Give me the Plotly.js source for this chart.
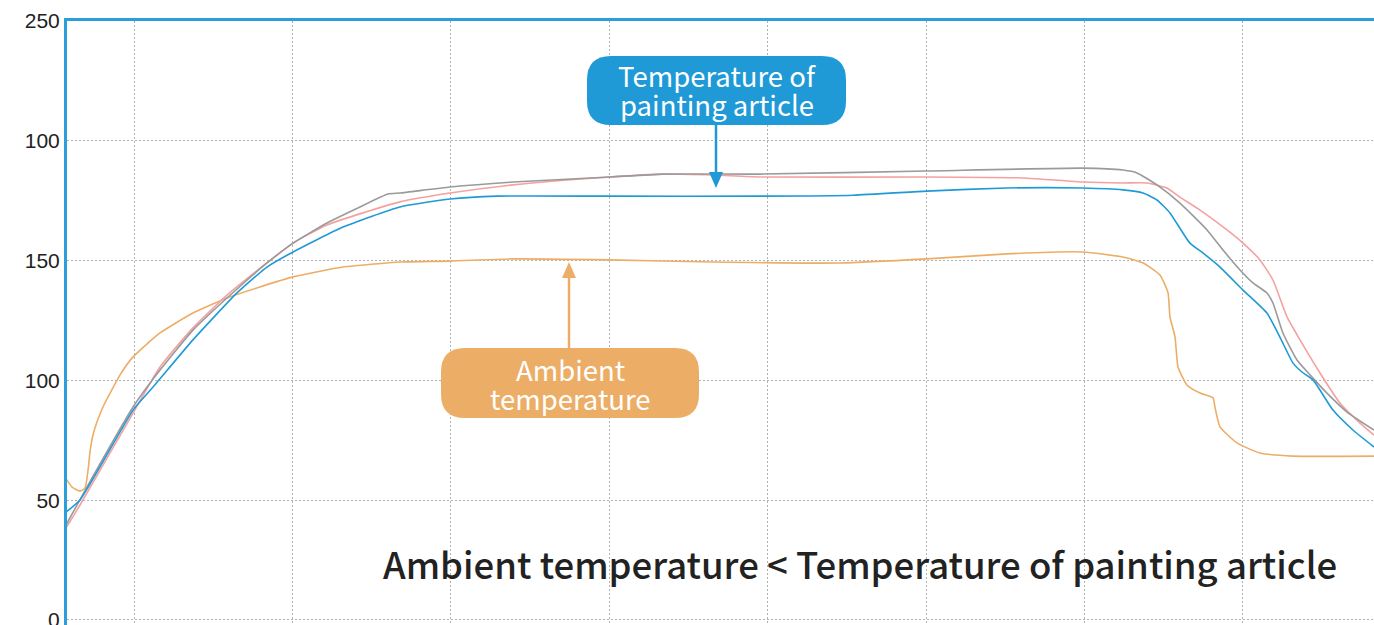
<!DOCTYPE html>
<html>
<head>
<meta charset="utf-8">
<script src="https://cdn.plot.ly/plotly-3.0.1.min.js"></script>
<style>html,body{margin:0;padding:0;background:#fff;}#chart{width:1374px;height:625px;}</style>
</head>
<body>
<div id="chart"></div>
<script>
// ---- data (time in arbitrary units, temperature values) ----
const blueX = [5.64, 6.59, 9.94, 11.20, 13.72, 16.50, 18.39, 20.04, 23.19, 26.79, 29.95, 32.91, 40.05, 49.51, 55.38, 60.05, 65.10, 69.90, 72.42, 73.69, 74.57, 75.39, 76.65, 77.47, 78.55, 80.00, 81.51, 82.33, 83.15, 83.72, 84.42, 85.68, 86.94, 88.27];
const blueY = [44.7, 50.1, 87.6, 97.2, 116.9, 136.5, 147.3, 153.6, 164.0, 172.4, 175.7, 176.9, 176.9, 176.9, 177.3, 179.0, 180.3, 180.3, 179.5, 178.2, 175.3, 169.9, 157.3, 153.2, 147.3, 137.7, 128.1, 118.1, 107.3, 103.5, 100.2, 87.6, 79.3, 72.2];

const grayX = [5.64, 7.03, 9.94, 11.64, 13.72, 15.87, 18.39, 20.04, 22.18, 24.26, 26.03, 26.79, 29.95, 33.92, 40.05, 43.39, 49.51, 60.05, 69.90, 72.42, 73.31, 74.57, 76.02, 77.73, 78.74, 79.81, 80.63, 81.51, 81.89, 82.52, 83.41, 84.23, 85.30, 86.57, 88.27];
const grayY = [38.8, 55.5, 88.9, 104.3, 121.0, 134.4, 149.0, 157.3, 165.7, 172.4, 177.8, 178.2, 180.7, 182.8, 184.9, 186.1, 186.1, 187.4, 188.6, 187.8, 186.6, 181.6, 174.0, 162.8, 154.4, 146.1, 140.7, 136.5, 132.3, 119.8, 108.5, 102.3, 94.7, 86.8, 79.3];

const redX = [5.64, 6.59, 9.94, 11.64, 13.72, 15.87, 18.39, 20.04, 22.18, 26.79, 29.95, 33.92, 40.05, 43.39, 46.55, 49.51, 60.05, 66.11, 69.90, 72.42, 73.94, 75.20, 76.02, 77.29, 78.99, 80.00, 81.07, 81.89, 82.78, 83.60, 84.86, 86.12, 87.39, 88.27];
const redY = [37.6, 48.0, 86.4, 105.6, 121.9, 135.6, 149.0, 157.3, 164.9, 174.5, 178.2, 181.6, 184.9, 186.1, 185.7, 184.9, 184.9, 184.5, 182.8, 182.4, 182.4, 180.3, 176.5, 171.1, 162.8, 157.3, 150.3, 141.9, 126.5, 116.9, 103.1, 90.6, 82.2, 77.2];

const ambX = [5.64, 6.09, 6.59, 6.91, 7.10, 7.22, 7.41, 7.66, 8.04, 8.49, 9.12, 9.94, 11.64, 13.72, 15.87, 17.95, 20.04, 23.19, 26.79, 29.95, 33.92, 40.05, 46.55, 54.56, 60.05, 65.10, 69.90, 72.42, 73.69, 74.76, 75.27, 75.39, 75.71, 75.90, 76.46, 77.29, 78.11, 78.23, 78.55, 79.62, 81.07, 83.15, 88.27];
const ambY = [59.7, 55.5, 53.8, 55.1, 62.6, 70.1, 77.2, 82.6, 88.9, 94.7, 102.3, 109.8, 119.8, 128.1, 134.4, 139.0, 143.2, 147.3, 149.4, 149.8, 150.7, 150.3, 149.4, 149.0, 150.7, 152.8, 153.6, 151.5, 149.0, 144.0, 136.5, 126.5, 118.1, 105.6, 98.1, 94.7, 92.7, 88.9, 80.6, 73.9, 69.7, 68.4, 68.4];

const yTickVals = [0, 50, 100, 150, 200, 250];
const yTickText = ['0', '50', '100', '150', '100', '250'];

const labelArticle = ['Temperature of', 'painting article'];
const labelAmbient = ['Ambient', 'temperature'];
const bigText = 'Ambient temperature < Temperature of painting article';

// ---- layout geometry ----
const W = 1374, H = 625, ML = 67, MT = 21, MR = 0, MB = 0;
const XR = [5.77, 88.27], YR = [-2.09, 250];
const px2x = p => XR[0] + (p - ML) / (W - ML - MR) * (XR[1] - XR[0]);
const py2y = p => YR[1] - (p - MT) / (H - MT - MB) * (YR[1] - YR[0]);
const px2paper = p => (p - ML) / (W - ML - MR);
const py2paper = p => 1 - (p - MT) / (H - MT - MB);
const P = (a, b) => px2x(a).toFixed(4) + ',' + py2y(b).toFixed(4);

function roundRect(x0, y0, x1, y1, r) {
  return 'M' + P(x0 + r, y0) + ' L' + P(x1 - r, y0) + ' Q' + P(x1, y0) + ' ' + P(x1, y0 + r) +
    ' L' + P(x1, y1 - r) + ' Q' + P(x1, y1) + ' ' + P(x1 - r, y1) +
    ' L' + P(x0 + r, y1) + ' Q' + P(x0, y1) + ' ' + P(x0, y1 - r) +
    ' L' + P(x0, y0 + r) + ' Q' + P(x0, y0) + ' ' + P(x0 + r, y0) + ' Z';
}
function arrowShapes(x, yTail, yTip, color) {
  const dir = yTip > yTail ? 1 : -1, hl = 16, hw = 7;
  const base = yTip - dir * hl;
  return [
    {type: 'line', xref: 'x', yref: 'y', x0: px2x(x), x1: px2x(x), y0: py2y(yTail), y1: py2y(base), line: {color: color, width: 2.5}, layer: 'above'},
    {type: 'path', xref: 'x', yref: 'y', path: 'M' + P(x - hw, base) + ' L' + P(x + hw, base) + ' L' + P(x, yTip) + ' Z', fillcolor: color, line: {width: 0}, layer: 'above'}
  ];
}

const BLUE = '#1f9ad6', GRAY = '#9a9a9a', RED = '#f4a1a1', ORANGE = '#ecae66';
const lw = 1.6;
const traces = [
  {x: ambX, y: ambY, mode: 'lines', line: {color: ORANGE, width: lw, shape: 'spline', smoothing: 0.5}, hoverinfo: 'skip'},
  {x: redX, y: redY, mode: 'lines', line: {color: RED, width: lw, shape: 'spline', smoothing: 0.5}, hoverinfo: 'skip'},
  {x: grayX, y: grayY, mode: 'lines', line: {color: GRAY, width: lw, shape: 'spline', smoothing: 0.5}, hoverinfo: 'skip'},
  {x: blueX, y: blueY, mode: 'lines', line: {color: BLUE, width: lw, shape: 'spline', smoothing: 0.5}, hoverinfo: 'skip'}
];

const lblFont = {family: 'Noto Sans CJK JP, Noto Sans, sans-serif', size: 27.5, color: '#ffffff'};
const lbl = (text, px, py) => ({xref: 'paper', yref: 'paper', x: px2paper(px), y: py2paper(py), text: text, showarrow: false, font: lblFont, xanchor: 'center', yanchor: 'middle'});
const annotations = [
  lbl(labelArticle[0], 717, 75),
  lbl(labelArticle[1], 717, 104),
  lbl(labelAmbient[0], 570, 369),
  lbl(labelAmbient[1], 570, 398),
  {xref: 'paper', yref: 'paper', x: px2paper(859.5), y: py2paper(563), text: bigText, showarrow: false, xanchor: 'center', yanchor: 'middle',
   font: {family: 'Noto Sans CJK JP, Noto Sans, sans-serif', size: 36.5, weight: 500, color: '#222222'}}
];

const shapes = [
  {type: 'path', xref: 'x', yref: 'y', path: roundRect(587, 56, 846, 125, 24), fillcolor: BLUE, line: {width: 0}, layer: 'above'},
  {type: 'path', xref: 'x', yref: 'y', path: roundRect(441, 348, 699, 418, 24), fillcolor: ORANGE, line: {width: 0}, layer: 'above'}
].concat(arrowShapes(716, 125, 188, BLUE), arrowShapes(569, 348, 262, ORANGE));

const layout = {
  width: W, height: H,
  margin: {l: ML, r: MR, t: MT, b: MB, pad: 0},
  paper_bgcolor: '#ffffff', plot_bgcolor: '#ffffff',
  showlegend: false,
  xaxis: {range: XR, tick0: 0, dtick: 10, showticklabels: false, ticks: '', showgrid: true, gridcolor: '#b0b0b0', griddash: '2px,2px', gridwidth: 1,
          zeroline: false, showline: true, mirror: true, linecolor: '#2a9fd9', linewidth: 3, fixedrange: true},
  yaxis: {range: YR, tickvals: yTickVals, ticktext: yTickText, ticks: '', showgrid: true, gridcolor: '#b0b0b0', griddash: '2px,2px', gridwidth: 1,
          zeroline: false, showline: true, linecolor: '#2a9fd9', linewidth: 3, ticklabeloverflow: 'allow',
          tickfont: {family: 'Liberation Sans, Arial, sans-serif', size: 21, color: '#222222'}, fixedrange: true},
  annotations: annotations,
  shapes: shapes
};

Plotly.newPlot('chart', traces, layout, {displayModeBar: false, staticPlot: true});
</script>
</body>
</html>
